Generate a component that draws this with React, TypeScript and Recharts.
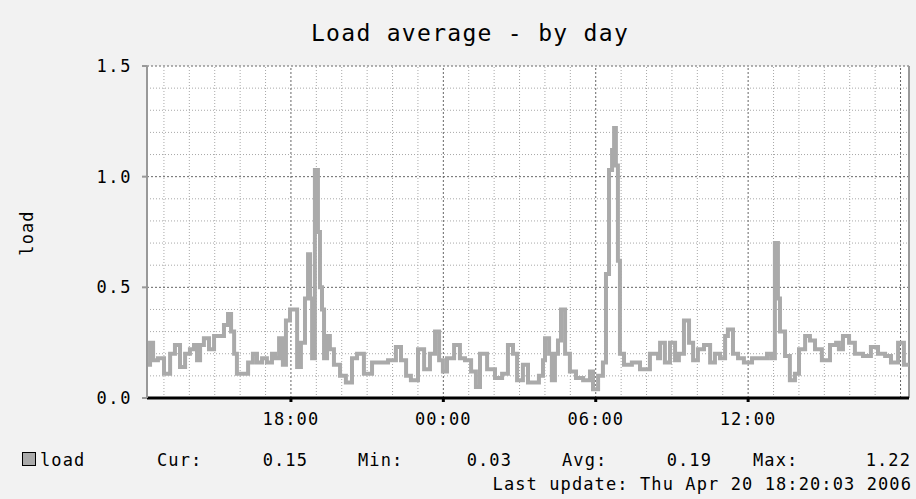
import React from 'react';
import { LineChart, Line, XAxis, YAxis, CartesianGrid, ReferenceLine } from 'recharts';

// graph window: 30 hours ending at the last update (Apr 20 18:20)
const startHour = 12 + 20 / 60;

// sample times, hours after the start of the window
const sampleOffsets = [
  0.0, 0.12, 0.24, 0.43, 0.67, 0.91, 1.1, 1.3, 1.5, 1.69, 1.85, 1.97, 2.09, 2.24, 2.44, 2.64, 2.87, 3.03, 3.19, 3.31,
  3.43, 3.54, 3.78, 3.98, 4.17, 4.33, 4.53, 4.72, 4.92, 5.04, 5.2, 5.35, 5.47, 5.63, 5.79, 5.91, 6.06, 6.22, 6.34, 6.42,
  6.5, 6.61, 6.73, 6.81, 6.89, 6.97, 7.09, 7.2, 7.36, 7.6, 7.83, 8.07, 8.27, 8.54, 8.86, 9.17, 9.49, 9.8, 10.0, 10.2,
  10.39, 10.67, 10.91, 11.14, 11.34, 11.5, 11.65, 11.81, 12.09, 12.32, 12.52, 12.76, 12.95, 13.11, 13.39, 13.7, 13.98, 14.21, 14.41, 14.57,
  14.8, 15.0, 15.28, 15.43, 15.59, 15.67, 15.83, 15.94, 16.06, 16.18, 16.3, 16.46, 16.65, 16.89, 17.17, 17.44, 17.56, 17.76, 17.95, 18.07,
  18.19, 18.31, 18.39, 18.46, 18.54, 18.62, 18.78, 19.09, 19.41, 19.61, 19.8, 20.12, 20.2, 20.39, 20.59, 20.79, 20.94, 21.14, 21.34, 21.5,
  21.69, 21.93, 22.17, 22.36, 22.56, 22.76, 22.87, 23.07, 23.27, 23.5, 23.82, 24.13, 24.41, 24.57, 24.72, 24.84, 24.92, 25.12, 25.31, 25.51,
  25.67, 25.91, 26.1, 26.3, 26.57, 26.89, 27.13, 27.24, 27.4, 27.64, 27.87, 28.19, 28.5, 28.78, 29.06, 29.29, 29.57, 29.8, 30.0,
];

const loadValues = [
  0.15, 0.25, 0.17, 0.18, 0.11, 0.2, 0.24, 0.14, 0.2, 0.22, 0.24, 0.17, 0.24, 0.27, 0.22, 0.28, 0.28, 0.33, 0.38, 0.3,
  0.2, 0.11, 0.11, 0.16, 0.2, 0.16, 0.18, 0.16, 0.2, 0.18, 0.27, 0.15, 0.35, 0.4, 0.4, 0.14, 0.25, 0.45, 0.65, 0.45,
  0.18, 1.03, 0.75, 0.5, 0.4, 0.18, 0.28, 0.22, 0.15, 0.1, 0.07, 0.18, 0.2, 0.11, 0.16, 0.16, 0.17, 0.23, 0.17, 0.1,
  0.08, 0.22, 0.13, 0.2, 0.3, 0.17, 0.12, 0.18, 0.24, 0.18, 0.17, 0.12, 0.05, 0.2, 0.13, 0.09, 0.11, 0.24, 0.2, 0.08,
  0.15, 0.07, 0.07, 0.1, 0.17, 0.27, 0.2, 0.08, 0.2, 0.26, 0.4, 0.2, 0.12, 0.09, 0.08, 0.12, 0.04, 0.1, 0.16, 0.56,
  1.03, 1.12, 1.22, 1.05, 0.62, 0.2, 0.15, 0.16, 0.13, 0.13, 0.2, 0.18, 0.25, 0.16, 0.25, 0.17, 0.2, 0.35, 0.25, 0.17,
  0.22, 0.24, 0.16, 0.2, 0.18, 0.28, 0.31, 0.2, 0.18, 0.16, 0.18, 0.18, 0.2, 0.18, 0.7, 0.45, 0.3, 0.19, 0.08, 0.11,
  0.22, 0.28, 0.26, 0.22, 0.17, 0.24, 0.25, 0.22, 0.28, 0.25, 0.2, 0.19, 0.23, 0.2, 0.19, 0.16, 0.25, 0.15, 0.15,
];

const yTicks = [0, 0.5, 1.0, 1.5];
const minorLoadLines = [0.1, 0.2, 0.3, 0.4, 0.6, 0.7, 0.8, 0.9, 1.1, 1.2, 1.3, 1.4];
const majorLoadLines = [0.5, 1.0, 1.5];
const xTickHours = [18, 24, 30, 36];
const majorHourLines = [18, 24, 30, 36, 42];
const minorHourLines = [13, 14, 15, 16, 17, 19, 20, 21, 22, 23, 25, 26, 27, 28, 29, 31, 32, 33, 34, 35, 37, 38, 39, 40, 41];

const legendStats = [
  { label: 'Cur:', value: '0.15' },
  { label: 'Min:', value: '0.03' },
  { label: 'Avg:', value: '0.19' },
  { label: 'Max:', value: '1.22' },
];

const data = sampleOffsets.map((h, i) => ({ t: startHour + h, load: loadValues[i] }));

const FONT = '"DejaVu Sans Mono", "Liberation Mono", monospace';
const MINOR = '#a8a8a8';
const MAJOR = '#666666';

const fmtHour = (h: number) => {
  const hh = Math.round(h) % 24;
  return `${hh < 10 ? '0' : ''}${hh}:00`;
};

const YTick = ({ x, y, payload }: any) => (
  <text x={x} y={y + 6} textAnchor="end" fontFamily={FONT} fontSize={17} letterSpacing={1.6} fill="#000">
    {Number(payload.value).toFixed(1)}
  </text>
);

const XTick = ({ x, y, payload }: any) => (
  <text x={x} y={y + 21} textAnchor="middle" fontFamily={FONT} fontSize={17} letterSpacing={1.1} fill="#000">
    {fmtHour(payload.value)}
  </text>
);

const textStyle: React.CSSProperties = {
  position: 'absolute',
  fontFamily: FONT,
  fontSize: 17,
  letterSpacing: '1.1px',
  color: '#000',
  lineHeight: '20px',
  whiteSpace: 'nowrap',
};

export default function App() {
  const cols = [
    { labelX: 157, valueRight: 308 },
    { labelX: 358, valueRight: 512 },
    { labelX: 562, valueRight: 712 },
    { labelX: 753, valueRight: 911 },
  ];
  return (
    <div style={{ position: 'absolute', left: 0, top: 0, width: 916, height: 499, background: '#f2f2f2', overflow: 'hidden' }}>
      <div style={{ ...textStyle, top: 20, left: 0, width: 940, textAlign: 'center', fontSize: 23, letterSpacing: '1.3px', lineHeight: '26px' }}>
        Load average - by day
      </div>
      <div
        style={{
          ...textStyle,
          left: 27,
          top: 233,
          transform: 'translate(-50%, -50%) rotate(-90deg)',
        }}
      >
        load
      </div>
      <LineChart width={916} height={499} data={data} margin={{ top: 66, right: 7, bottom: 71, left: 87 }}>
        <CartesianGrid fill="#ffffff" horizontal={false} vertical={false} />
        {minorLoadLines.map((v) => (
          <ReferenceLine key={`ml${v}`} y={v} stroke={MINOR} strokeDasharray="1 2" />
        ))}
        {minorHourLines.map((h) => (
          <ReferenceLine key={`mh${h}`} x={h} stroke={MINOR} strokeDasharray="1 2" />
        ))}
        {majorLoadLines.map((v) => (
          <ReferenceLine key={`Ml${v}`} y={v} stroke={MAJOR} strokeDasharray="2 2" />
        ))}
        {majorHourLines.map((h) => (
          <ReferenceLine key={`Mh${h}`} x={h} stroke={MAJOR} strokeDasharray="2 2" />
        ))}
        <XAxis
          dataKey="t"
          type="number"
          domain={[startHour, startHour + 30]}
          ticks={xTickHours}
          tick={<XTick />}
          tickSize={4}
          tickMargin={2}
          height={30}
          stroke="#000"
          strokeWidth={3}
          allowDataOverflow
        />
        <YAxis
          domain={[0, 1.5]}
          ticks={yTicks}
          tick={<YTick />}
          tickSize={5}
          tickMargin={10}
          width={60}
          stroke="#999"
          strokeWidth={2}
          allowDataOverflow
        />
        <ReferenceLine x={startHour + 30} stroke="#999" strokeWidth={2} />
        <Line
          type="stepAfter"
          dataKey="load"
          stroke="#aaaaaa"
          strokeWidth={4}
          dot={false}
          isAnimationActive={false}
        />
      </LineChart>
      <div style={{ position: 'absolute', left: 22, top: 452, width: 12, height: 12, background: '#aaaaaa', border: '1px solid #000' }} />
      <div style={{ ...textStyle, left: 40, top: 450 }}>load</div>
      {legendStats.map((s, i) => (
        <React.Fragment key={s.label}>
          <div style={{ ...textStyle, left: cols[i].labelX, top: 450 }}>{s.label}</div>
          <div style={{ ...textStyle, left: cols[i].valueRight - 60, width: 60, textAlign: 'right', top: 450 }}>{s.value}</div>
        </React.Fragment>
      ))}
      <div style={{ ...textStyle, right: 4, top: 474, textAlign: 'right' }}>Last update: Thu Apr 20 18:20:03 2006</div>
    </div>
  );
}
